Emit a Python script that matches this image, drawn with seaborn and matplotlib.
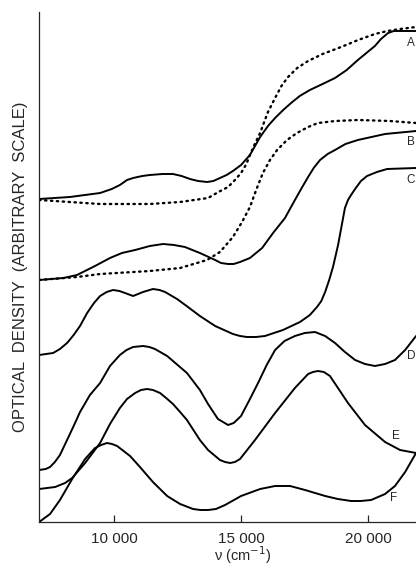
import numpy as np
import pandas as pd
import seaborn as sns
import matplotlib
matplotlib.use("Agg")
import matplotlib.pyplot as plt

sns.set_style("ticks")
plt.rcParams['font.family'] = ['Liberation Sans', 'DejaVu Sans']

# wavenumber (cm-1) and optical density (arbitrary)
a_wn = [7040, 8250, 9440, 9900, 10220, 10500, 10740, 11100, 11400, 11900, 12310, 12650,
        12980, 13300, 13650, 13900, 14160, 14420, 14670, 14990, 15340, 15740, 16050,
        16330, 16650, 16960, 17300, 17700, 18200, 18690, 19150, 19590, 20260, 20500,
        20780, 21000, 21250, 21880]
a_od = [3.23, 3.25, 3.29, 3.33, 3.37, 3.42, 3.44, 3.46, 3.47, 3.48, 3.48, 3.46,
        3.43, 3.41, 3.40, 3.41, 3.44, 3.47, 3.51, 3.57, 3.67, 3.85, 3.96,
        4.04, 4.12, 4.19, 4.26, 4.32, 4.38, 4.44, 4.52, 4.62, 4.76, 4.83,
        4.89, 4.91, 4.91, 4.91]

a2_wn = [7040, 8250, 9440, 11400, 12590, 13690, 14100, 14480, 14750, 14990, 15200, 15340,
         15550, 15740, 15900, 16050, 16330, 16580, 16840, 17200, 17630, 18200, 18930,
         19600, 20260, 20750, 21250, 21880]
a2_od = [3.22, 3.20, 3.18, 3.18, 3.20, 3.24, 3.30, 3.35, 3.42, 3.49, 3.58, 3.67,
         3.79, 3.89, 4.00, 4.10, 4.24, 4.36, 4.45, 4.54, 4.61, 4.68, 4.75,
         4.82, 4.88, 4.91, 4.93, 4.95]

b_wn = [7040, 8000, 8530, 9240, 9830, 10300, 10820, 11400, 11920, 12350, 12780, 13370,
        13970, 14200, 14480, 14700, 14950, 15340, 15820, 16250, 16720, 17110, 17400,
        17630, 17850, 18100, 18400, 18690, 19100, 19590, 20660, 21880]
b_od = [2.42, 2.44, 2.47, 2.56, 2.64, 2.69, 2.72, 2.76, 2.78, 2.77, 2.75, 2.69,
        2.62, 2.59, 2.58, 2.58, 2.60, 2.64, 2.74, 2.89, 3.04, 3.22, 3.35,
        3.45, 3.54, 3.62, 3.68, 3.72, 3.78, 3.82, 3.88, 3.91]

b2_wn = [7040, 8530, 9440, 11400, 12590, 13650, 14160, 14670, 15030, 15340, 15600, 15850,
         16130, 16410, 16800, 17190, 17630, 18020, 18700, 19590, 20850, 21880]
b2_od = [2.42, 2.45, 2.48, 2.51, 2.54, 2.62, 2.70, 2.85, 3.00, 3.15, 3.33, 3.49,
         3.62, 3.72, 3.82, 3.89, 3.95, 3.99, 4.01, 4.02, 4.01, 3.99]

c_wn = [7040, 7590, 7860, 8140, 8400, 8650, 8930, 9200, 9440, 9700, 9950, 10200, 10420,
        10740, 11130, 11520, 11780, 12000, 12470, 12900, 13370, 13970, 14670, 14950,
        15220, 15580, 15930, 16640, 17310, 17700, 17980, 18150, 18300, 18460, 18610,
        18810, 19000, 19080, 19200, 19320, 19480, 19710, 19950, 20340, 20740, 21880]
c_od = [1.67, 1.69, 1.73, 1.79, 1.87, 1.96, 2.09, 2.19, 2.26, 2.30, 2.32, 2.31, 2.29,
        2.26, 2.30, 2.33, 2.32, 2.30, 2.23, 2.15, 2.06, 1.96, 1.88, 1.86,
        1.85, 1.85, 1.86, 1.92, 2.00, 2.07, 2.15, 2.21, 2.30, 2.42, 2.55,
        2.77, 3.03, 3.14, 3.22, 3.27, 3.33, 3.41, 3.46, 3.50, 3.53, 3.54]

d_wn = [7040, 7300, 7470, 7660, 7860, 8140, 8400, 8650, 9040, 9440, 9830, 10220, 10480,
        10740, 11130, 11380, 11600, 12080, 12860, 13370, 13690, 14080, 14280, 14480,
        14700, 14990, 15320, 15660, 16000, 16330, 16700, 17110, 17500, 17900, 18300,
        18690, 19080, 19480, 19870, 20260, 20660, 21050, 21450, 21880]
d_od = [0.52, 0.53, 0.55, 0.60, 0.67, 0.82, 0.96, 1.10, 1.27, 1.39, 1.56, 1.67, 1.72,
        1.75, 1.76, 1.75, 1.73, 1.66, 1.49, 1.32, 1.18, 1.03, 1.00, 0.97,
        0.99, 1.06, 1.22, 1.39, 1.57, 1.72, 1.81, 1.86, 1.89, 1.90, 1.86,
        1.79, 1.70, 1.62, 1.58, 1.56, 1.58, 1.62, 1.72, 1.86]

e_wn = [7040, 7670, 8060, 8340, 8850, 9440, 9830, 10220, 10500, 10820, 11050, 11290,
        11520, 11800, 12040, 12310, 12590, 12860, 13370, 13690, 14160, 14360, 14560,
        14750, 14950, 15540, 16330, 17110, 17630, 17820, 18020, 18250, 18490, 19200,
        19870, 20660, 21250, 21880]
e_od = [0.33, 0.35, 0.39, 0.44, 0.59, 0.79, 0.98, 1.14, 1.23, 1.29, 1.32, 1.33,
        1.32, 1.29, 1.24, 1.18, 1.10, 1.02, 0.82, 0.72, 0.62, 0.60, 0.59,
        0.60, 0.63, 0.82, 1.09, 1.34, 1.48, 1.50, 1.51, 1.50, 1.46, 1.19,
        0.97, 0.80, 0.72, 0.69]

f_wn = [7040, 7470, 7860, 8340, 8850, 9240, 9480, 9710, 9910, 10110, 10620, 11010, 11520,
        12080, 12590, 13100, 13390, 13690, 14000, 14360, 14990, 15740, 16330, 16920,
        17510, 18300, 18800, 19320, 19700, 20110, 20660, 21050, 21450, 21880]
f_od = [0.00, 0.08, 0.22, 0.43, 0.63, 0.74, 0.77, 0.79, 0.78, 0.76, 0.66, 0.55, 0.40,
        0.26, 0.18, 0.13, 0.12, 0.12, 0.13, 0.17, 0.26, 0.33, 0.36, 0.36,
        0.32, 0.26, 0.23, 0.21, 0.21, 0.22, 0.28, 0.36, 0.50, 0.69]

curves = [
    ("A", a_wn, a_od, "-"), ("A'", a2_wn, a2_od, ":"),
    ("B", b_wn, b_od, "-"), ("B'", b2_wn, b2_od, ":"),
    ("C", c_wn, c_od, "-"), ("D", d_wn, d_od, "-"),
    ("E", e_wn, e_od, "-"), ("F", f_wn, f_od, "-"),
]

labels = ["A", "B", "C", "D", "E", "F"]
label_wn = [21850, 21850, 21850, 21850, 21090, 20990]
label_od = [4.79, 3.80, 3.42, 1.66, 0.86, 0.24]
label_ha = ["right", "right", "right", "right", "center", "center"]

fig = plt.figure(figsize=(4.16, 5.66), dpi=100)
ax = fig.add_axes([39 / 416, 44 / 566, 377 / 416, 510 / 566])

for name, wn, od, ls in curves:
    df = pd.DataFrame({"wn": wn, "od": od})
    if ls == ":":
        sns.lineplot(data=df, x="wn", y="od", ax=ax, color="black", estimator=None,
                     linewidth=1.7, linestyle=(0, (0.6, 1.9)), dash_capstyle="round")
    else:
        sns.lineplot(data=df, x="wn", y="od", ax=ax, color="black", estimator=None,
                     linewidth=1.4)

for lab, x, y, ha in zip(labels, label_wn, label_od, label_ha):
    ax.text(x, y, lab, fontsize=8.5, ha=ha, va="center", clip_on=False)

ax.set_xlim(7035, 21878)
ax.set_ylim(0, 5.10)
ax.set_xticks([10000, 15000, 20000])
ax.set_xticklabels(["10 000", "15 000", "20 000"], fontsize=11)
ax.set_yticks([])
ax.tick_params(axis="x", direction="in", length=5, width=0.9, pad=7)
sns.despine(ax=ax)
ax.spines["left"].set_linewidth(0.9)
ax.spines["bottom"].set_linewidth(0.9)

ax.set_xlabel("ν (cm$^{-1}$)", fontsize=10.5, labelpad=1)
ax.xaxis.set_label_coords(0.541, -0.044)
ax.set_ylabel("OPTICAL  DENSITY  (ARBITRARY  SCALE)", fontsize=12)
ax.yaxis.set_label_coords(-0.03, 0.5)

fig.savefig("out.png", dpi=100)
